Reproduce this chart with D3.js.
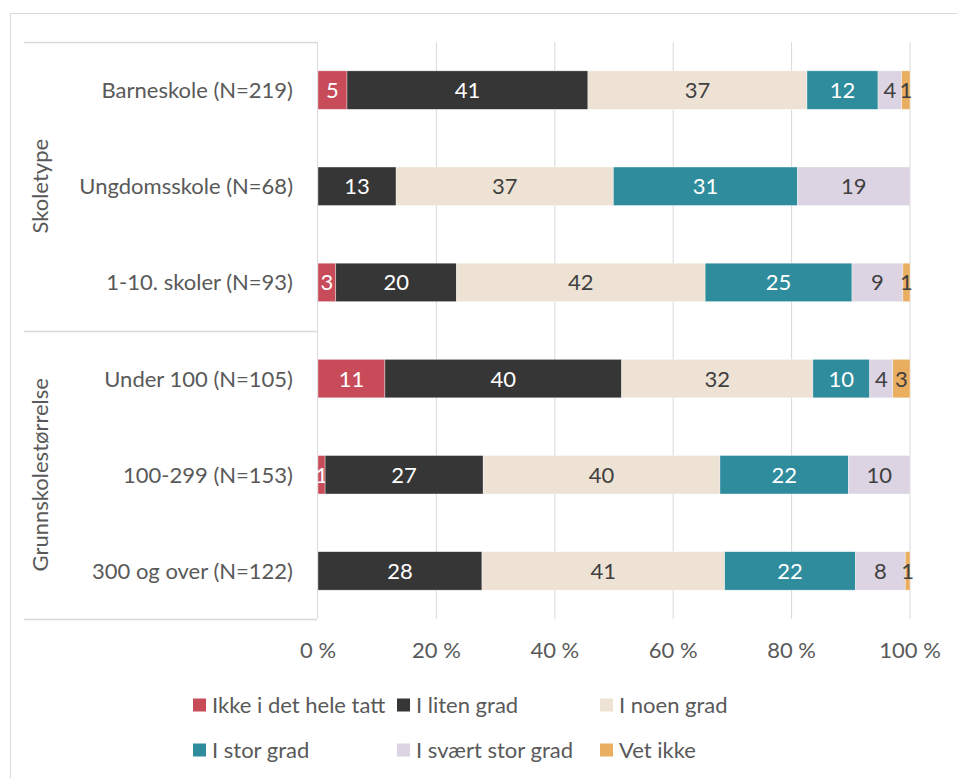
<!DOCTYPE html>
<html>
<head>
<meta charset="utf-8">
<script src="https://cdn.jsdelivr.net/npm/d3@7"></script>
<style>
  body { margin: 0; background: #fff; }
  svg text { font-family: Lato, "Open Sans", sans-serif; }
</style>
</head>
<body>
<svg width="957" height="778"></svg>
<script>
const categories = ["Barneskole (N=219)", "Ungdomsskole (N=68)", "1-10. skoler (N=93)",
                    "Under 100 (N=105)", "100-299 (N=153)", "300 og over (N=122)"];
const series = ["Ikke i det hele tatt", "I liten grad", "I noen grad", "I stor grad", "I svært stor grad", "Vet ikke"];
const colors = ["#C84B5A", "#363636", "#EDE2D4", "#2E8C9C", "#DCD4E2", "#E9AE60"];
const labelColors = ["#fff", "#fff", "#404040", "#fff", "#404040", "#404040"];

// values per series, in category order (percent)
const ikke    = [4.9, 0,    3.0,  11.3, 1.2,  0];
const liten   = [40.7, 13.2, 20.4, 40.0, 26.7, 27.7];
const noen    = [37.0, 36.7, 42.0, 32.3, 40.0, 41.0];
const stor    = [12.0, 31.1, 24.8, 9.6,  21.7, 22.1];
const svaert  = [4.0,  19.0, 8.6,  3.9,  10.4, 8.4];
const vetIkke = [1.4,  0,    1.2,  2.9,  0,    0.8];

const groups = [
  { name: "Skoletype", members: categories.slice(0, 3) },
  { name: "Grunnskolestørrelse", members: categories.slice(3) }
];
const xTicks = [0, 20, 40, 60, 80, 100];

const seriesValues = [ikke, liten, noen, stor, svaert, vetIkke];
const table = categories.map((c, i) => {
  const row = { cat: c };
  series.forEach((s, j) => row[s] = seriesValues[j][i]);
  return row;
});

const svg = d3.select("svg");
const plotTop = 42, plotBottom = 619;
const fs = "22px";

// outer frame
svg.append("rect")
  .attr("x", 10.5).attr("y", 13.5)
  .attr("width", 980).attr("height", 800)
  .attr("fill", "none").attr("stroke", "#D9D9D9");

const x = d3.scaleLinear().domain([0, 100]).range([318, 910]);
const y = d3.scaleBand().domain(categories).range([plotTop, plotBottom]).paddingInner(0.6).paddingOuter(0.3);

// gridlines
svg.append("g").selectAll("line")
  .data(xTicks.slice(1))
  .join("line")
  .attr("x1", d => x(d)).attr("x2", d => x(d))
  .attr("y1", plotTop).attr("y2", plotBottom)
  .attr("stroke", "#D9D9D9").attr("stroke-width", 1);

// category axis frame lines
svg.append("line").attr("x1", 317.5).attr("x2", 317.5).attr("y1", plotTop).attr("y2", plotBottom)
  .attr("stroke", "#D9D9D9");
const step = y.step();
const sepYs = [plotTop, plotTop + (plotBottom - plotTop) / 2, plotBottom];
svg.append("g").selectAll("line")
  .data(sepYs)
  .join("line")
  .attr("x1", 24).attr("x2", 317)
  .attr("y1", d => Math.round(d) + 0.5).attr("y2", d => Math.round(d) + 0.5)
  .attr("stroke", "#D9D9D9").attr("stroke-width", 1.5);

const stacked = d3.stack().keys(series)(table);

const layers = svg.append("g").selectAll("g")
  .data(stacked)
  .join("g")
  .attr("fill", (d, i) => colors[i]);

layers.selectAll("rect")
  .data(d => d)
  .join("rect")
  .attr("x", d => x(d[0]))
  .attr("y", d => y(d.data.cat))
  .attr("width", d => x(d[1]) - x(d[0]))
  .attr("height", y.bandwidth())
  .attr("stroke", "#fff").attr("stroke-width", 0.6).attr("stroke-opacity", 0.6);

layers.each(function (layer, i) {
  d3.select(this).selectAll("text")
    .data(layer.filter(d => d.data[layer.key] > 0))
    .join("text")
    .attr("x", d => (x(d[0]) + x(d[1])) / 2)
    .attr("y", d => y(d.data.cat) + y.bandwidth() / 2)
    .attr("dy", "0.36em")
    .attr("text-anchor", "middle")
    .attr("font-size", fs)
    .attr("fill", labelColors[i])
    .text(d => Math.round(d.data[layer.key]));
});

// category labels
svg.append("g").selectAll("text")
  .data(categories)
  .join("text")
  .attr("x", 293)
  .attr("y", d => y(d) + y.bandwidth() / 2)
  .attr("dy", "0.36em")
  .attr("text-anchor", "end")
  .attr("font-size", fs)
  .attr("fill", "#595959")
  .text(d => d);

// group labels
groups.forEach(g => {
  const y0 = y(g.members[0]) - step * 0.3;
  const y1 = y(g.members[g.members.length - 1]) + y.bandwidth() + step * 0.3;
  svg.append("text")
    .attr("transform", `translate(40,${(y0 + y1) / 2}) rotate(-90)`)
    .attr("dy", "0.36em")
    .attr("text-anchor", "middle")
    .attr("font-size", fs)
    .attr("fill", "#595959")
    .text(g.name);
});

// x axis tick labels
svg.append("g").selectAll("text")
  .data(xTicks)
  .join("text")
  .attr("x", d => x(d))
  .attr("y", 650)
  .attr("dy", "0.36em")
  .attr("text-anchor", "middle")
  .attr("font-size", fs)
  .attr("fill", "#595959")
  .text(d => d + " %");

// legend
const legendX = [193, 397, 600];
const legendY = [705, 750];
const legend = svg.append("g").selectAll("g")
  .data(series)
  .join("g")
  .attr("transform", (d, i) => `translate(${legendX[i % 3]},${legendY[Math.floor(i / 3)]})`);
legend.append("rect")
  .attr("x", 0).attr("y", -6.5)
  .attr("width", 13).attr("height", 13)
  .attr("fill", (d, i) => colors[i]);
legend.append("text")
  .attr("x", 19).attr("y", 0)
  .attr("dy", "0.36em")
  .attr("font-size", fs)
  .attr("fill", "#595959")
  .text(d => d);
</script>
</body>
</html>
